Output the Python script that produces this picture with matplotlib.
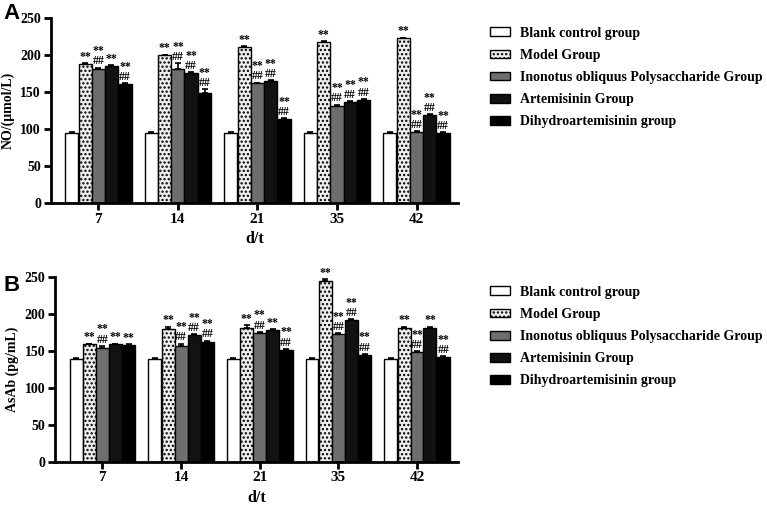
import matplotlib.pyplot as plt
import numpy as np

days = ['7', '14', '21', '35', '42']
groups = ['Blank control group', 'Model Group', 'Inonotus obliquus Polysaccharide Group',
          'Artemisinin Group', 'Dihydroartemisinin group']

# NO (umol/L), rows = groups, cols = days
no_vals = [
    [95, 95, 95, 95, 95],
    [188, 200, 211, 218, 223],
    [181, 182, 162, 132, 96],
    [186, 176, 165, 137, 119],
    [161, 149, 114, 140, 95],
]
no_err = [
    [1, 1, 1, 1, 1],
    [1, 1, 1, 1, 1],
    [2, 7, 1, 1, 1],
    [1, 1, 1, 1, 1],
    [1, 5, 1, 1, 1],
]
no_marks = [
    ['', '', '', '', ''],
    ['**', '**', '**', '**', '**'],
    ['**\n##', '**\n##', '**\n##', '**\n##', '**\n##'],
    ['**', '**\n##', '**\n##', '**\n##', '**\n##'],
    ['**\n##', '**\n##', '**\n##', '**\n##', '**\n##'],
]

# AsAb (pg/mL)
asab_vals = [
    [139, 139, 139, 139, 139],
    [159, 180, 182, 245, 182],
    [154, 157, 175, 173, 149],
    [159, 172, 179, 192, 182],
    [158, 163, 152, 145, 142],
]
asab_err = [
    [1, 1, 1, 1, 1],
    [1, 3, 3, 3, 1],
    [3, 3, 1, 1, 1],
    [1, 1, 1, 1, 1],
    [1, 1, 1, 1, 1],
]
asab_marks = [
    ['', '', '', '', ''],
    ['**', '**', '**', '**', '**'],
    ['**\n##', '**\n##', '**\n##', '**\n##', '**\n##'],
    ['**', '**\n##', '**', '**\n##', '**'],
    ['**', '**\n##', '**\n##', '**\n##', '**\n##'],
]

colors = ['white', '#eeeeee', '#6e6e6e', '#121212', '#000000']
hatches = [None, '....', None, None, None]
offsets = [-0.335, -0.165, 0.0, 0.165, 0.335]
width = 0.165

plt.rcParams['font.family'] = ['Liberation Serif', 'DejaVu Serif']
plt.rcParams['font.weight'] = 'bold'
plt.rcParams['hatch.color'] = '#555555'
plt.rcParams['hatch.linewidth'] = 1.1


def draw_panel(ax, vals, errs, marks, ylabel):
    x = np.arange(len(days))
    for i in range(len(groups)):
        ax.bar(x + offsets[i], vals[i], width, color=colors[i], edgecolor='black',
               linewidth=1.0, hatch=hatches[i], label=groups[i], zorder=2)
        ax.errorbar(x + offsets[i], vals[i], yerr=[np.zeros(len(days)), errs[i]],
                    fmt='none', ecolor='black', elinewidth=1.2, capsize=2.5, capthick=1.2, zorder=3)
        for j in range(len(days)):
            if marks[i][j]:
                ax.text(x[j] + offsets[i], vals[i][j] + errs[i][j] + 0.5, marks[i][j],
                        ha='center', va='bottom', fontsize=8.5, fontweight='bold',
                        linespacing=0.8)
    ax.set_xlim(-0.6, 4.52)
    ax.set_ylim(0, 250)
    ax.set_yticks([0, 50, 100, 150, 200, 250])
    ax.set_xticks(x)
    ax.set_xticklabels(days)
    ax.set_xlabel('d/t', fontsize=11.5, fontweight='bold', labelpad=4)
    ax.set_ylabel(ylabel, fontsize=10, fontweight='bold', labelpad=4)
    for s in ['top', 'right']:
        ax.spines[s].set_visible(False)
    for s in ['left', 'bottom']:
        ax.spines[s].set_linewidth(2)
    ax.tick_params(width=2, length=5, pad=2)
    ax.tick_params(axis='x', labelsize=11)
    ax.tick_params(axis='y', labelsize=10)
    for lab in ax.get_xticklabels() + ax.get_yticklabels():
        lab.set_fontweight('bold')
    ax.legend(loc='upper left', bbox_to_anchor=(1.065, 0.985), frameon=False,
              prop={'weight': 'bold', 'size': 10}, handlelength=1.45, handleheight=0.6,
              handletextpad=0.75, labelspacing=0.66, borderaxespad=0)


fig = plt.figure(figsize=(7.67, 5.09), dpi=100)
ax_a = fig.add_axes([0.066, 0.601, 0.531, 0.363])
ax_b = fig.add_axes([0.072, 0.093, 0.525, 0.362])

draw_panel(ax_a, no_vals, no_err, no_marks, 'NO/(μmol/L)')
draw_panel(ax_b, asab_vals, asab_err, asab_marks, 'AsAb (pg/mL)')

fig.text(0.004, 0.962, 'A', fontsize=16, fontweight='bold', family='Liberation Sans')
fig.text(0.004, 0.428, 'B', fontsize=16, fontweight='bold', family='Liberation Sans')

fig.savefig('out.png', dpi=100)
